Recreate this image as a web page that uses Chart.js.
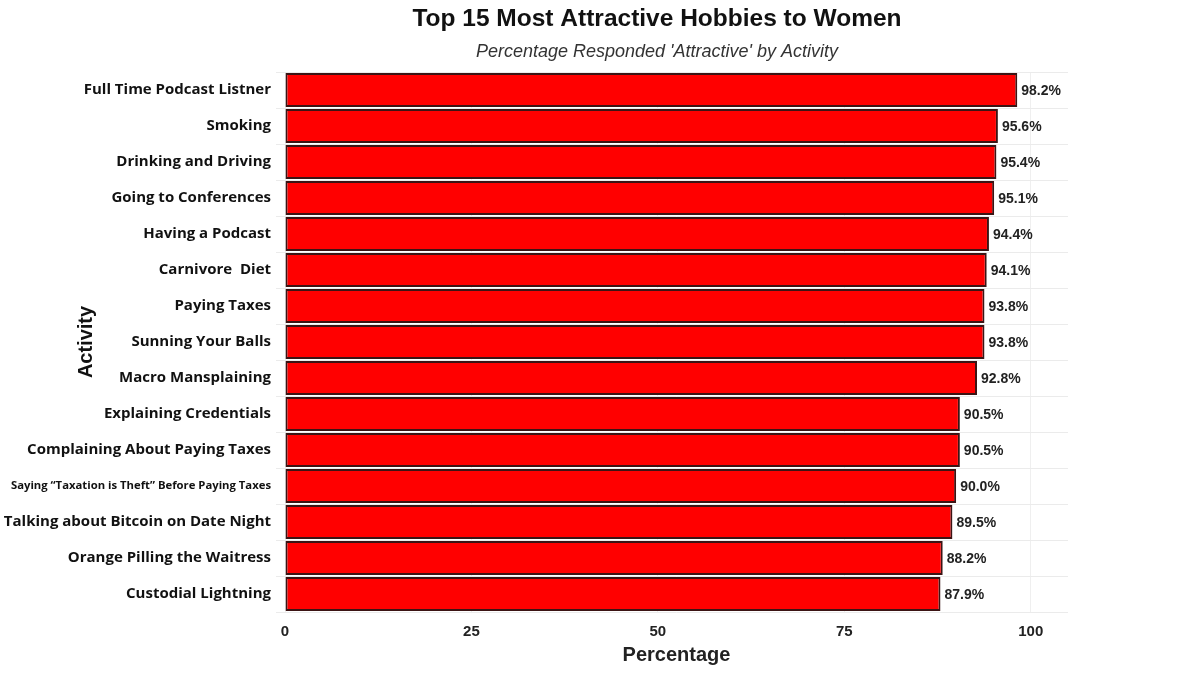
<!DOCTYPE html>
<html>
<head>
<meta charset="utf-8">
<script src="https://cdn.jsdelivr.net/npm/chart.js@4.4.1/dist/chart.umd.min.js"></script>
<style>
  html, body { margin: 0; padding: 0; background: #fff; }
  #wrap { width: 1200px; height: 675px; }
</style>
</head>
<body>
<div id="wrap"><canvas id="chart"></canvas></div>
<script>
const activities = [
  "Full Time Podcast Listner",
  "Smoking",
  "Drinking and Driving",
  "Going to Conferences",
  "Having a Podcast",
  "Carnivore  Diet",
  "Paying Taxes",
  "Sunning Your Balls",
  "Macro Mansplaining",
  "Explaining Credentials",
  "Complaining About Paying Taxes",
  "Saying \u201cTaxation is Theft\u201d Before Paying Taxes",
  "Talking about Bitcoin on Date Night",
  "Orange Pilling the Waitress",
  "Custodial Lightning"
];
const percentages = [98.2, 95.6, 95.4, 95.1, 94.4, 94.1, 93.8, 93.8, 92.8, 90.5, 90.5, 90.0, 89.5, 88.2, 87.9];
const xTicks = [0, 25, 50, 75, 100];

const TITLE = "Top 15 Most Attractive Hobbies to Women";
const SUBTITLE = "Percentage Responded 'Attractive' by Activity";

// value labels at the end of each bar + the two title lines
const extras = {
  id: "extras",
  afterDatasetsDraw(chart) {
    const ctx = chart.ctx;
    const meta = chart.getDatasetMeta(0);
    ctx.save();
    ctx.font = "bold 14px 'Liberation Sans', Arial, sans-serif";
    ctx.fillStyle = "#222";
    ctx.textBaseline = "middle";
    ctx.textAlign = "left";
    meta.data.forEach((bar, i) => {
      ctx.fillText(percentages[i].toFixed(1) + "%", bar.x + 4, bar.y + 1);
    });
    ctx.restore();
  },
  afterDraw(chart) {
    const ctx = chart.ctx;
    ctx.save();
    ctx.fillStyle = "#111";
    ctx.textAlign = "center";
    ctx.textBaseline = "middle";
    ctx.font = "bold 24.5px 'Liberation Sans', Arial, sans-serif";
    ctx.fillText(TITLE, 657, 19);
    ctx.fillStyle = "#333";
    ctx.font = "italic 18px 'Liberation Sans', Arial, sans-serif";
    ctx.fillText(SUBTITLE, 657, 52);
    ctx.restore();
  }
};

new Chart(document.getElementById("chart"), {
  type: "bar",
  data: {
    labels: activities,
    datasets: [{
      data: percentages,
      backgroundColor: "#ff0000",
      borderColor: "#3b1414",
      borderWidth: 2,
      borderSkipped: false,
      barPercentage: 0.94,
      categoryPercentage: 1
    }]
  },
  options: {
    indexAxis: "y",
    responsive: true,
    maintainAspectRatio: false,
    animation: false,
    layout: { padding: { top: 72, right: 132, bottom: 8, left: 0 } },
    plugins: {
      legend: { display: false },
      tooltip: { enabled: false }
    },
    scales: {
      x: {
        min: 0,
        max: 105,
        afterBuildTicks: s => { s.ticks = xTicks.map(v => ({ value: v })); },
        afterFit: s => { s.height = 55; },
        border: { display: false },
        grid: { color: "#efefef", lineWidth: 1, drawTicks: false },
        ticks: {
          padding: 11,
          color: "#222",
          font: { family: "'Liberation Sans', Arial, sans-serif", size: 15, weight: "bold" }
        },
        title: {
          display: true,
          text: "Percentage",
          color: "#222",
          padding: { top: 0, bottom: 0 },
          font: { family: "'Liberation Sans', Arial, sans-serif", size: 20, weight: "bold" }
        }
      },
      y: {
        afterFit: s => { s.width = 285; },
        border: { display: false },
        grid: { color: "#ebebeb", lineWidth: 1, tickLength: 9 },
        ticks: {
          padding: 5,
          color: "#111",
          font: ctx => ({
            family: "'Open Sans', sans-serif",
            size: ctx.index === 11 ? 11.3 : 15,
            weight: "bold"
          })
        },
        title: {
          display: true,
          text: "Activity",
          color: "#111",
          padding: { top: 74, bottom: 0 },
          font: { family: "'Liberation Sans', Arial, sans-serif", size: 20, weight: "bold" }
        }
      }
    }
  },
  plugins: [extras]
});
</script>
</body>
</html>
